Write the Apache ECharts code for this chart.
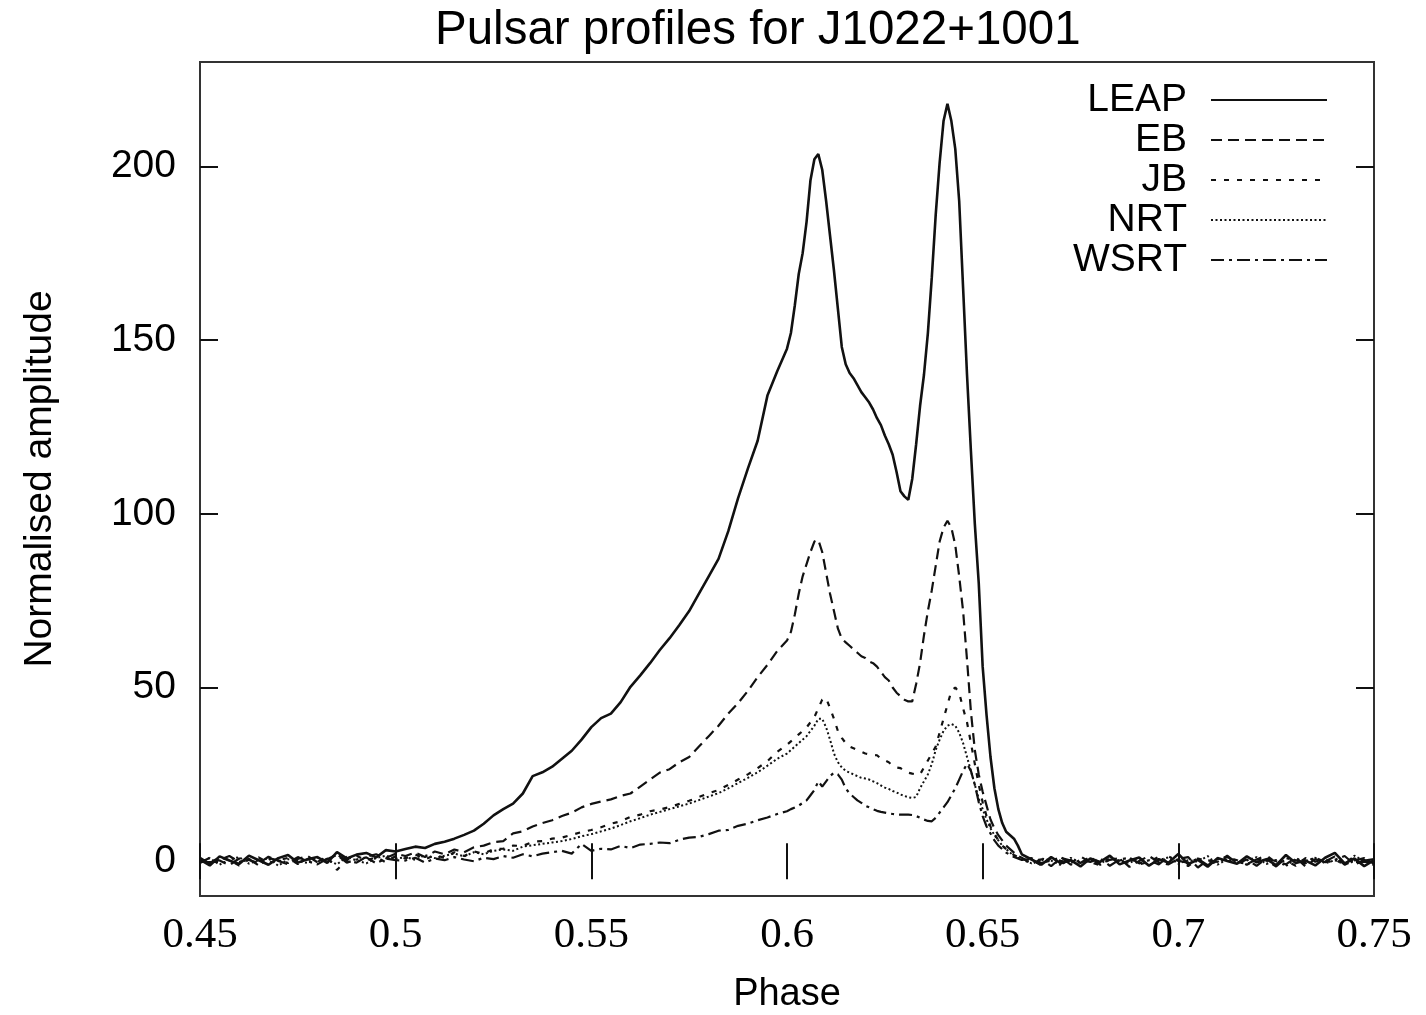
<!DOCTYPE html>
<html>
<head>
<meta charset="utf-8">
<script src="https://cdn.jsdelivr.net/npm/echarts@6/dist/echarts.min.js"></script>
<style>
html,body{margin:0;padding:0;background:#fff;}
#chart{width:1426px;height:1015px;}
</style>
</head>
<body>
<div id="chart"></div>
<script>
// Phase grid (x values)
const phase = [
  0.45,0.4525,0.455,0.4575,0.46,0.4625,0.465,0.4675,0.47,0.4725,0.475,0.4775,0.48,0.4825,0.485,0.4875,0.49,0.4925,0.495,0.4975,0.5,
  0.5025,0.505,0.5075,0.51,0.5125,0.515,0.5175,0.52,0.5225,0.525,0.5275,0.53,0.5325,0.535,0.5375,0.54,0.5425,0.545,0.5475,0.55,0.5525,0.555,0.5575,0.56,0.5625,0.565,0.5675,0.57,0.5725,0.575,0.5775,0.58,0.5825,0.585,0.5875,0.59,0.5925,0.595,0.5975,
  0.600,0.601,0.602,0.603,0.604,0.605,0.606,0.607,0.608,0.609,
  0.610,0.611,0.612,0.613,0.614,0.615,0.616,0.617,0.618,0.619,
  0.620,0.621,0.622,0.623,0.624,0.625,0.626,0.627,0.628,0.629,
  0.630,0.631,0.632,0.633,0.634,0.635,0.636,0.637,0.638,0.639,
  0.640,0.641,0.642,0.643,0.644,0.645,0.646,0.647,0.648,0.649,
  0.650,0.651,0.652,0.653,0.654,0.655,0.656,0.657,0.658,0.659,
  0.660,
  0.6625,0.665,0.6675,0.67,0.6725,0.675,0.6775,0.68,0.6825,0.685,0.6875,0.69,0.6925,0.695,0.6975,0.7,0.7025,0.705,0.7075,0.71,0.7125,0.715,0.7175,0.72,0.7225,0.725,0.7275,0.73,0.7325,0.735,0.7375,0.74,0.7425,0.745,0.7475,0.75
];

const leap = [
  0.5,-1.2,1.4,0.2,-0.8,1.6,0.3,-1,0.9,1.8,-0.4,0.6,1.2,-0.5,2.6,0.8,1.9,2.4,1.1,3.2,2.8,
  3.5,4.2,3.8,5.0,5.6,6.5,7.6,8.8,10.8,13.2,15.0,16.6,19.5,24.5,25.6,27.2,29.5,31.8,35.0,38.6,41.2,42.5,45.8,50.2,53.5,57.0,60.8,64.2,68.0,72.0,77.0,82,87,95,104.5,113,121,134,141,
  147.5,152,160,169,175,184,196,202,203.5,199,
  190,180,170,159,148,143,140.5,139,137,135,
  133.5,132,130,127.5,125.5,122.5,120,117,112,106.5,
  105,104,110,120,131,140,152,168,186,201,
  213,218,213,205,190,165,140,118,97,80,
  56,42,30,21,15,11,8.5,7.5,6.5,4.5,
  2,
  0.5,-1,1.2,-0.6,0.3,-1.5,0.8,-0.2,1.6,-0.9,0.2,1.1,-1.3,0.6,-0.4,2.1,-0.8,0.4,-1.6,0.9,0.1,-0.7,1.4,-0.3,0.6,-1.1,1.8,-0.5,0.2,-1.2,1.0,2.4,-0.6,0.8,-1.4,0.3
];

const eb = [
  -0.5,1.0,0.2,-1.1,0.8,0.4,-0.6,1.3,0.1,-0.9,0.7,1.5,-0.3,0.6,1.9,0.2,-0.4,1.3,2.0,0.9,2.2,
  1.5,2.5,1.2,2.8,2.0,3.4,2.6,4.0,4.5,5.5,5.8,8.0,8.6,10.0,11.0,11.8,13.0,14.0,15.5,16.5,17.2,17.8,18.8,19.5,21.5,23.5,25.5,26.5,28.5,30.0,33.0,36.0,39.0,42.5,45.5,49.0,53.0,56.5,60.5,
  63.5,66,71,77,82,85.5,89,92,92.5,89,
  83,77,72,67,64,63,62,61,60,59,
  58.5,57.5,57,56,54.5,53,52,50,48.5,47.5,
  46.5,46,46,51,57,65,72,78,85,92,
  96,98,96,91,82,72,58,43,32,25,
  20,16,12,9.5,7.5,6,4.5,3.5,2.5,1.5,
  1,
  -0.8,0.6,-1.4,1.0,0.2,-0.5,1.3,-1.0,0.4,0.9,-1.6,0.1,1.5,-0.3,-0.9,0.7,1.2,-1.8,0.3,-0.2,1.6,-0.6,0.5,-1.3,0.8,0.0,-0.9,1.1,-1.5,0.6,-0.1,1.4,-1.0,0.2,0.9,-0.7
];

const jb = [
  0.8,-0.6,1.2,0.3,-1.2,0.5,1.1,-0.4,0.2,1.0,-0.8,0.6,-0.2,1.4,-2.5,0.4,1.6,0.2,1.2,-0.3,1.5,
  0.8,2.0,0.5,1.8,1.0,2.6,1.5,2.8,2.2,3.5,3.6,4.5,4.4,5.6,5.8,6.5,6.8,7.6,8.4,9.0,9.8,10.8,11.5,12.8,13.4,14.4,14.9,15.6,16.5,17.4,18.5,19.6,20.5,22.0,23.5,25.0,26.8,28.8,31.5,
  33.5,34.5,35.5,36.5,37.5,38.5,40,41.5,44,46.5,
  47,44,41,37.5,35.5,34,33,32.5,32,31.5,
  31,30.8,30.6,30.5,29.5,29,28.5,27.5,27,26.8,
  26,25.5,25.2,25,25,27,29,31,33,37,
  41,45,49,50,48.5,44,40,34,28,22,
  17,13,10,8,6,4.5,3.5,2.5,1.8,1.2,
  0.6,
  0.4,-1.2,0.9,0.1,-0.6,1.4,-0.3,-1.1,0.7,0.2,1.0,-0.9,-0.2,1.3,-0.5,0.6,-1.4,0.8,0.0,-0.7,1.1,0.3,-1.0,0.5,1.7,-0.4,0.2,-1.3,0.9,-0.1,0.6,-0.8,1.2,-0.3,0.4,-1.1
];

const nrt = [
  -0.3,0.9,-1.0,0.5,1.2,-0.7,0.3,0.8,-1.3,0.6,0.1,-0.5,1.0,0.4,-0.9,1.3,0.2,-0.6,0.9,1.6,0.7,
  1.2,0.4,1.8,0.9,1.6,2.2,1.4,2.6,2.0,3.0,3.4,3.0,4.2,4.6,5.0,5.4,5.8,6.4,7.2,7.8,8.6,9.4,10.4,11.5,12.4,13.4,14.2,15.0,15.8,16.6,17.6,18.6,19.6,21.0,22.5,24.0,25.6,27.5,29.5,
  31,32,33,34,35,36,37.5,39,41,41,
  38.5,35,31,28.5,27,26,25.5,25,24.5,24,
  23.8,23.5,23,22.5,21.8,21.2,20.8,20.2,19.8,19.2,
  18.8,18.4,18.2,18.5,21,23,25,28,32,35,
  37.5,39,39.5,39,37,34,30,26,22,18,
  15,12,9.5,7.5,6,4.5,3.5,2.5,1.5,1,
  0.5,
  -0.6,0.8,0.2,-1.1,1.0,-0.4,0.5,-0.9,1.3,0.0,-0.5,0.9,-1.2,0.4,1.1,-0.7,0.3,-0.1,1.5,-1.0,0.6,-0.3,0.2,1.2,-0.8,0.4,-1.4,0.7,0.1,1.0,-0.6,0.3,-0.9,1.6,0.0,-0.4
];

const wsrt = [
  1.0,-0.8,0.4,1.5,-0.2,0.6,-1.2,0.9,0.3,-0.5,1.2,0.0,-0.9,0.7,1.8,-0.4,0.5,1.1,-0.6,0.8,0.3,
  0.2,1.0,-0.4,0.8,0.3,1.2,0.5,0.0,1.0,0.6,1.5,1.0,2.0,1.4,2.2,2.6,3.0,2.2,5.0,3.0,3.6,3.4,4.4,3.8,4.8,5.0,5.4,5.2,6.2,6.8,7.0,7.8,8.8,9.0,10.2,10.8,11.8,12.6,13.6,
  14.4,15,15.5,16,16.8,17.5,19,20.5,23,21.5,
  23,24.5,25.5,25,23.5,21,19.5,18.5,17.5,16.8,
  16,15.5,15,14.5,14.2,14,13.8,13.6,13.5,13.4,
  13.4,13.4,13.3,13,12.5,12,11.6,11.5,12.5,14,
  15.5,17,19,21,23.5,26,28,26,22,17,
  13,10,8,6,4.5,3.5,2.5,1.8,1.2,0.8,
  0.4,
  0.9,-0.5,0.2,1.2,-1.0,0.4,-0.2,0.8,-1.3,0.5,1.0,-0.6,0.3,-0.9,1.4,0.1,-0.4,0.7,-1.1,0.6,1.2,-0.2,-0.8,0.5,0.2,-1.5,0.9,0.3,-0.6,1.1,-0.3,0.4,1.5,-0.9,0.2,0.6
];

const seriesNames = ['LEAP', 'EB', 'JB', 'NRT', 'WSRT'];
const xTicks = [0.45, 0.5, 0.55, 0.6, 0.65, 0.7, 0.75];
const yTicks = [0, 50, 100, 150, 200];

[leap, eb, jb, nrt, wsrt].forEach(function (arr, i) {
  if (arr.length !== phase.length) {
    throw new Error(seriesNames[i] + ' length ' + arr.length + ' vs ' + phase.length);
  }
});

function pairs(vals) {
  return phase.map(function (x, i) { return [x, vals[i]]; });
}

const styles = [
  { width: 2.6, type: 'solid' },
  { width: 2.2, type: [11, 6] },
  { width: 2.2, type: [5, 8] },
  { width: 2.0, type: [2, 2.5] },
  { width: 2.2, type: [13, 5, 3, 5] }
];
const dataSets = [leap, eb, jb, nrt, wsrt];

const SANS = 'Liberation Sans, Helvetica, Arial, sans-serif';
const SERIF = 'Liberation Serif, Times New Roman, serif';
const XMIN = 0.45, XMAX = 0.75, YMIN = -10, YMAX = 230;

const chart = echarts.init(document.getElementById('chart'), null, { renderer: 'canvas' });
chart.setOption({
  animation: false,
  backgroundColor: '#ffffff',
  title: {
    text: 'Pulsar profiles for J1022+1001',
    left: 435, top: 7, padding: 0,
    textStyle: { fontFamily: SANS, fontSize: 47.5, fontWeight: 'normal', color: '#000' }
  },
  legend: {
    data: seriesNames,
    orient: 'vertical',
    right: 98, top: 80,
    align: 'right',
    itemWidth: 116, itemHeight: 20, itemGap: 0,
    padding: 0,
    itemStyle: { opacity: 0 },
    textStyle: { fontFamily: SANS, fontSize: 39, color: '#000', lineHeight: 40, padding: [0, 19, 0, 0] }
  },
  grid: {
    left: 200, top: 62, width: 1174, height: 834,
    outerBoundsMode: 'none',
    containLabel: false,
    show: true, borderColor: '#333', borderWidth: 2, backgroundColor: 'transparent'
  },
  xAxis: [{
    type: 'value', min: XMIN, max: XMAX, position: 'bottom',
    axisLine: { show: false },
    axisTick: { show: true, inside: true, length: 18, customValues: xTicks, lineStyle: { color: '#111', width: 2 } },
    axisLabel: {
      customValues: xTicks, margin: 18, color: '#000', fontFamily: SERIF, fontSize: 43,
      formatter: function (v) { return String(+Number(v).toFixed(2)); }
    },
    splitLine: { show: false },
    name: 'Phase', nameLocation: 'middle', nameGap: 80,
    nameTextStyle: { fontFamily: SANS, fontSize: 38, color: '#000' }
  }, {
    type: 'value', min: XMIN, max: XMAX, position: 'top',
    axisLine: { show: false },
    axisTick: { show: true, inside: true, length: 18, customValues: xTicks, lineStyle: { color: '#111', width: 2 } },
    axisLabel: { show: false },
    splitLine: { show: false }
  }],
  yAxis: [{
    type: 'value', min: YMIN, max: YMAX, position: 'left',
    axisLine: { show: false },
    axisTick: { show: true, inside: true, length: 18, customValues: yTicks, lineStyle: { color: '#111', width: 2 } },
    axisLabel: { customValues: yTicks, margin: 24, color: '#000', fontFamily: SANS, fontSize: 39 },
    splitLine: { show: false },
    name: 'Normalised amplitude', nameLocation: 'middle', nameGap: 140,
    nameTextStyle: { fontFamily: SANS, fontSize: 39, color: '#000' }
  }, {
    type: 'value', min: YMIN, max: YMAX, position: 'right',
    axisLine: { show: false },
    axisTick: { show: true, inside: true, length: 18, customValues: yTicks, lineStyle: { color: '#111', width: 2 } },
    axisLabel: { show: false },
    splitLine: { show: false }
  }],
  series: seriesNames.map(function (name, i) {
    return {
      name: name,
      type: 'line',
      xAxisIndex: 0, yAxisIndex: 0,
      data: pairs(dataSets[i]),
      symbol: 'none',
      smooth: false,
      clip: true,
      color: '#111',
      lineStyle: { color: '#111', width: styles[i].width, type: styles[i].type },
      z: 5 - i
    };
  })
});
</script>
</body>
</html>
